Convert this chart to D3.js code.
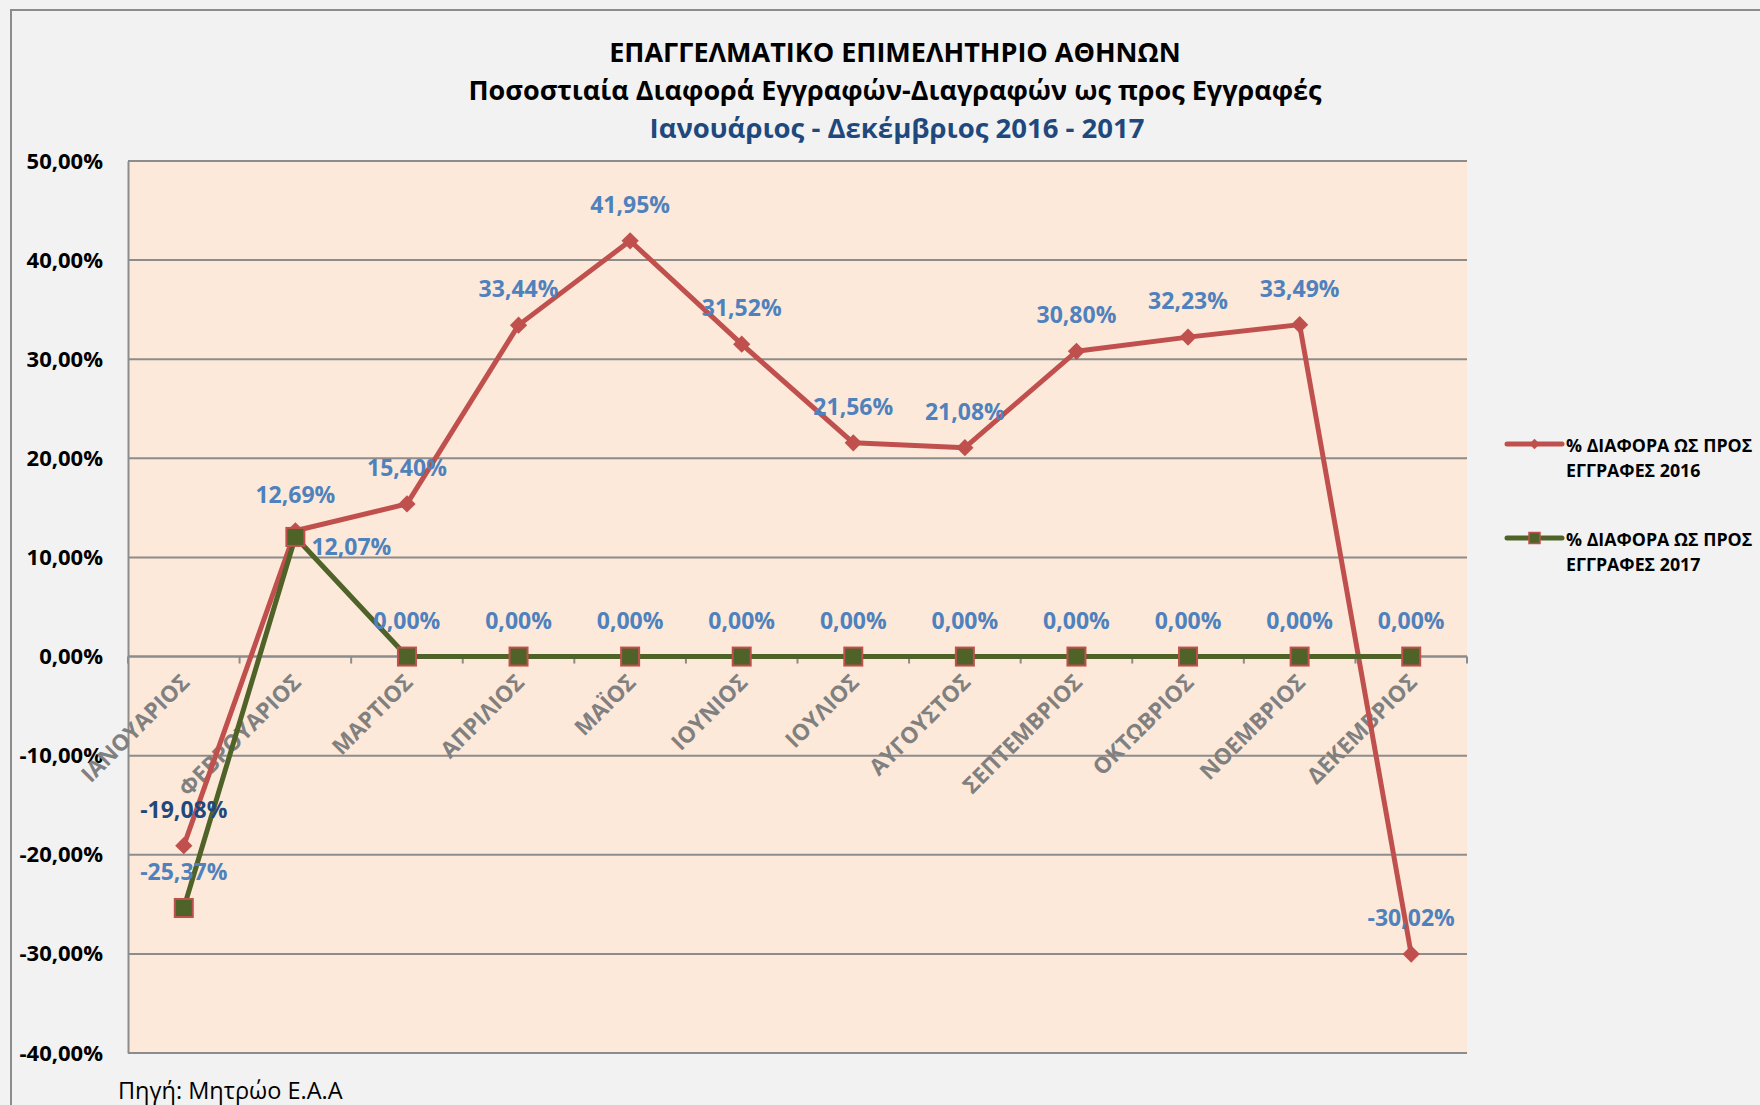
<!DOCTYPE html>
<html>
<head>
<meta charset="utf-8">
<script src="https://cdn.jsdelivr.net/npm/d3@7"></script>
<style>
  html, body { margin: 0; padding: 0; background: #F2F2F2; }
  svg { display: block; }
  text { font-family: "Open Sans", "DejaVu Sans", sans-serif; }
</style>
</head>
<body>
<svg id="chart" width="1760" height="1105"></svg>
<script>
const titleLines = ["ΕΠΑΓΓΕΛΜΑΤΙΚΟ ΕΠΙΜΕΛΗΤΗΡΙΟ ΑΘΗΝΩΝ", "Ποσοστιαία Διαφορά Εγγραφών-Διαγραφών ως προς Εγγραφές", "Ιανουάριος - Δεκέμβριος 2016 - 2017"];
const months = ["ΙΑΝΟΥΑΡΙΟΣ", "ΦΕΒΡΟΥΑΡΙΟΣ", "ΜΑΡΤΙΟΣ", "ΑΠΡΙΛΙΟΣ", "ΜΑΪΟΣ", "ΙΟΥΝΙΟΣ", "ΙΟΥΛΙΟΣ", "ΑΥΓΟΥΣΤΟΣ", "ΣΕΠΤΕΜΒΡΙΟΣ", "ΟΚΤΩΒΡΙΟΣ", "ΝΟΕΜΒΡΙΟΣ", "ΔΕΚΕΜΒΡΙΟΣ"];
const values2016 = [-19.08, 12.69, 15.40, 33.44, 41.95, 31.52, 21.56, 21.08, 30.80, 32.23, 33.49, -30.02];
const values2017 = [-25.37, 12.07, 0, 0, 0, 0, 0, 0, 0, 0, 0, 0];
const seriesNames = ["% ΔΙΑΦΟΡΑ ΩΣ ΠΡΟΣ|ΕΓΓΡΑΦΕΣ 2016", "% ΔΙΑΦΟΡΑ ΩΣ ΠΡΟΣ|ΕΓΓΡΑΦΕΣ 2017"];
const yTicks = [-40, -30, -20, -10, 0, 10, 20, 30, 40, 50];
const sourceText = "Πηγή: Μητρώο Ε.Α.Α";

const svg = d3.select("#chart");
const fmt = v => v.toFixed(2).replace(".", ",") + "%";

// outer frame
svg.append("rect").attr("x", 11).attr("y", 10).attr("width", 1800).attr("height", 1200)
  .attr("fill", "#F2F2F2").attr("stroke", "#8C8C8C").attr("stroke-width", 2);

const L = 128, R = 1467;
const x = d3.scaleBand().domain(months).range([L, R]).padding(0);
const y = d3.scaleLinear().domain([-40, 50]).range([1053, 161]);
const cx = m => x(m) + x.bandwidth() / 2;

// plot area
svg.append("rect").attr("x", L).attr("y", y(50)).attr("width", R - L).attr("height", y(-40) - y(50))
  .attr("fill", "#FDE9D9");

// gridlines
svg.append("g").selectAll("line").data(yTicks).join("line")
  .attr("x1", L).attr("x2", R).attr("y1", d => y(d)).attr("y2", d => y(d))
  .attr("stroke", "#8C8C8C").attr("stroke-width", 2);

// y axis
const yAxis = d3.axisLeft(y).tickValues(yTicks).tickSize(0).tickPadding(25)
  .tickFormat(d => fmt(d));
const gy = svg.append("g").attr("transform", `translate(${L},0)`).call(yAxis);
gy.select(".domain").attr("stroke", "#8C8C8C").attr("stroke-width", 2);
gy.selectAll("text").attr("font-size", 22).attr("font-weight", "bold").attr("fill", "#000")
  .attr("font-family", "'Open Sans', sans-serif");

// x axis at zero
const xAxis = d3.axisBottom(x).tickSize(0).tickFormat("");
const gx = svg.append("g").attr("transform", `translate(0,${y(0)})`).call(xAxis);
gx.select(".domain").attr("stroke", "#8C8C8C").attr("stroke-width", 2).attr("d", `M${L},0H${R}`);
const bounds = months.map(m => x(m)).concat([R]);
gx.selectAll("line.bt").data(bounds).join("line").attr("class", "bt")
  .attr("x1", d => d).attr("x2", d => d).attr("y1", 0).attr("y2", 7)
  .attr("stroke", "#8C8C8C").attr("stroke-width", 2);
svg.append("g").selectAll("text").data(months).join("text")
  .attr("transform", m => `translate(${cx(m) - 4},${y(0) + 16}) rotate(-45)`)
  .attr("text-anchor", "end").attr("dy", "0.7em")
  .attr("font-size", 22.5).attr("font-weight", "bold").attr("fill", "#808080")
  .text(m => m);

// lines
const line = d3.line().x((d, i) => cx(months[i])).y(d => y(d));
svg.append("path").datum(values2016).attr("d", line).attr("fill", "none")
  .attr("stroke", "#C0504D").attr("stroke-width", 5).attr("stroke-linejoin", "round");
svg.append("path").datum(values2017).attr("d", line).attr("fill", "none")
  .attr("stroke", "#4F6228").attr("stroke-width", 5).attr("stroke-linejoin", "round");

// markers
const diamond = d3.symbol().type(d3.symbolDiamond2).size(190);
svg.append("g").selectAll("path").data(values2016).join("path")
  .attr("d", diamond)
  .attr("transform", (d, i) => `translate(${cx(months[i])},${y(d)})`)
  .attr("fill", "#C0504D");
svg.append("g").selectAll("rect").data(values2017).join("rect")
  .attr("x", (d, i) => cx(months[i]) - 9).attr("y", d => y(d) - 9)
  .attr("width", 18).attr("height", 18)
  .attr("fill", "#4F6228").attr("stroke", "#C0504D").attr("stroke-width", 2);

// data labels
const lblColor = "#4F81BD";
svg.append("g").selectAll("text").data(values2016).join("text")
  .attr("x", (d, i) => cx(months[i])).attr("y", d => y(d) - 28)
  .attr("text-anchor", "middle").attr("font-size", 23).attr("font-weight", "bold")
  .attr("fill", (d, i) => i === 0 ? "#1F497D" : lblColor)
  .text(d => fmt(d));
svg.append("g").selectAll("text").data(values2017).join("text")
  .attr("x", (d, i) => i === 1 ? cx(months[i]) + 16 : cx(months[i]))
  .attr("y", (d, i) => i === 1 ? y(d) + 18 : y(d) - 28)
  .attr("text-anchor", (d, i) => i === 1 ? "start" : "middle")
  .attr("font-size", 23).attr("font-weight", "bold").attr("fill", lblColor)
  .text(d => fmt(d));

// titles
const tg = svg.append("g").attr("text-anchor", "middle").attr("font-weight", "bold");
tg.append("text").attr("x", 895).attr("y", 62).attr("font-size", 27).attr("fill", "#000").text(titleLines[0]);
tg.append("text").attr("x", 895).attr("y", 100).attr("font-size", 27).attr("fill", "#000").text(titleLines[1]);
tg.append("text").attr("x", 897).attr("y", 138).attr("font-size", 27.5).attr("fill", "#1F497D").text(titleLines[2]);

// legend
const legColors = [["#C0504D", "diamond"], ["#4F6228", "square"]];
const legY = [444, 538];
seriesNames.forEach((name, i) => {
  const g = svg.append("g");
  g.append("line").attr("x1", 1507).attr("x2", 1562).attr("y1", legY[i]).attr("y2", legY[i])
    .attr("stroke", legColors[i][0]).attr("stroke-width", 5).attr("stroke-linecap", "round");
  if (i === 0) {
    g.append("path").attr("d", d3.symbol().type(d3.symbolDiamond2).size(70))
      .attr("transform", `translate(1534.5,${legY[i]})`).attr("fill", "#C0504D");
  } else {
    g.append("rect").attr("x", 1529).attr("y", legY[i] - 5.5).attr("width", 11).attr("height", 11)
      .attr("fill", "#4F6228").attr("stroke", "#C0504D").attr("stroke-width", 1.5);
  }
  const parts = name.split("|");
  parts.forEach((p, j) => {
    g.append("text").attr("x", 1566).attr("y", legY[i] + 8 + j * 25)
      .attr("font-size", 17.8).attr("font-weight", "bold").attr("fill", "#000").text(p);
  });
});

// source
svg.append("text").attr("x", 118).attr("y", 1099).attr("font-size", 23.5).attr("fill", "#000").text(sourceText);
</script>
</body>
</html>
